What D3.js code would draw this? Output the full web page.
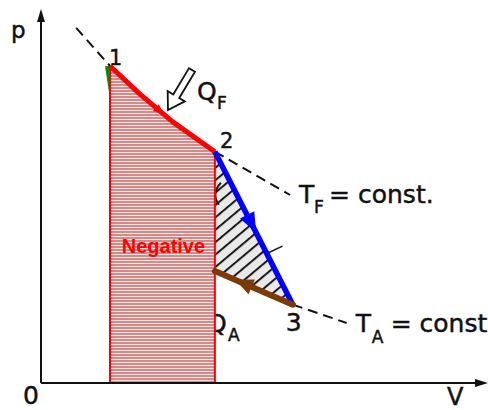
<!DOCTYPE html>
<html>
<head>
<meta charset="utf-8">
<script src="https://cdn.jsdelivr.net/npm/d3@7"></script>
<style>
  html, body { margin: 0; padding: 0; background: #fff; }
  svg { display: block; }
  text.lbl { font-family: "DejaVu Sans", "Liberation Sans", sans-serif; fill: #111; stroke: #111; stroke-width: 0.45px; }
</style>
</head>
<body>
<svg id="chart" width="488" height="410"></svg>
<script>
// Cycle states in (V, p) units
const stateNames = ["1", "2", "3", "4"];
const stateV = [1.0, 2.52, 3.65, 2.52];
const stateP = [8.5, 6.2, 2.1, 3.0];

// Expansion 1 -> 2 along the hot side (slightly sagging curve)
const hotV = [1.0, 1.43, 1.91, 2.52];
const hotP = [8.5, 7.75, 7.0, 6.2];

// Isotherm stubs drawn dashed beyond the cycle corners
const isoFV = [0.51, 1.0];
const isoFP = [9.52, 8.5];
const isoF2V = [2.52, 3.61];
const isoF2P = [6.2, 5.04];
const isoAV = [3.65, 4.43];
const isoAP = [2.1, 1.61];

// Text labels
const isoLabels = ["T", "F", "= const.", "T", "A", "= const"];
const heatLabels = ["Q", "F", "Q", "A"];
const areaLabel = "Negative";

const svg = d3.select("#chart");
const x = d3.scaleLinear().domain([0, 6.5]).range([41, 489.5]);
const y = d3.scaleLinear().domain([0, 10]).range([383, 10]);
const pt = (v, p) => [x(v), y(p)];
const line = d3.line().x(d => x(d[0])).y(d => y(d[1]));

function label(px, py, size, txt) {
  return svg.append("text").attr("class", "lbl")
    .attr("x", px).attr("y", py).attr("font-size", size).text(txt);
}

const defs = svg.append("defs");

// Horizontal stripes for the area under 1 -> 2
const stripes = defs.append("pattern")
  .attr("id", "stripes").attr("patternUnits", "userSpaceOnUse")
  .attr("width", 6).attr("height", 3);
stripes.append("rect").attr("width", 6).attr("height", 3).attr("fill", "#f6e6e6");
stripes.append("rect").attr("width", 6).attr("height", 2).attr("fill", "#d58a8a");

// Diagonal hatching for the enclosed cycle area
const hatch = defs.append("pattern")
  .attr("id", "hatch").attr("patternUnits", "userSpaceOnUse")
  .attr("width", 20).attr("height", 9.5)
  .attr("patternTransform", "rotate(-40)");
hatch.append("rect").attr("width", 20).attr("height", 9.5).attr("fill", "#e9e9e9");
hatch.append("line").attr("x1", 0).attr("x2", 20).attr("y1", 1).attr("y2", 1)
  .attr("stroke", "#1a1a1a").attr("stroke-width", 2);

// Hatched region 2 -> 3 -> 4, extended left under the striped area
const hatchPoly = [[stateV[1] - 0.3, stateP[1]], [stateV[1], stateP[1]],
                   [stateV[2], stateP[2]], [stateV[3], stateP[3]], [stateV[3] - 0.3, stateP[3]]];
svg.append("path").attr("d", line(hatchPoly) + "Z").attr("fill", "url(#hatch)");

// short leader stroke crossing the 2 -> 3 line
const leadA = pt(3.25, 3.45), leadB = pt(3.5, 3.67);
svg.append("line").attr("x1", leadA[0]).attr("y1", leadA[1])
  .attr("x2", leadB[0]).attr("y2", leadB[1])
  .attr("stroke", "#1a1a1a").attr("stroke-width", 1.6);

// small arc mark next to state 2
const p2 = pt(stateV[1], stateP[1]);
svg.append("path")
  .attr("d", `M${p2[0] + 6},${p2[1] + 31} Q${p2[0] - 4},${p2[1] + 42} ${p2[0] + 4},${p2[1] + 53}`)
  .attr("fill", "none").attr("stroke", "#1a1a1a").attr("stroke-width", 2);

// Q_A label (partly under the striped area)
const p4 = pt(stateV[3], stateP[3]);
label(p4[0] - 8, p4[1] + 61, 25, heatLabels[2]);
label(p4[0] + 13, p4[1] + 70, 17, heatLabels[3]);

// green isochoric stub at state 1
const p1 = pt(stateV[0], stateP[0]);
svg.append("path")
  .attr("d", `M${p1[0] - 3},${p1[1]} L${p1[0] + 1},${p1[1] + 26}`)
  .attr("stroke", "#0a8a0a").attr("stroke-width", 4).attr("fill", "none");

// Striped area under the 1 -> 2 curve
const areaPts = hotV.map((v, i) => [v, hotP[i]]);
const areaPath = line([[hotV[0], 0], ...areaPts, [hotV[hotV.length - 1], 0]]) + "Z";
svg.append("path").attr("d", areaPath)
  .attr("fill", "url(#stripes)").attr("stroke", "#ff0000").attr("stroke-width", 2);

// Axes with arrow heads
const axisG = svg.append("g").attr("stroke", "#111").attr("stroke-width", 2).attr("fill", "none");
axisG.append("line").attr("x1", x(0)).attr("y1", y(0)).attr("x2", x(0)).attr("y2", 14);
axisG.append("line").attr("x1", x(0)).attr("y1", y(0)).attr("x2", 484).attr("y2", y(0));
svg.append("path").attr("d", `M${x(0)},9 L${x(0) - 4},22 L${x(0) + 4},22 Z`).attr("fill", "#111");
svg.append("path").attr("d", `M488,${y(0)} L475,${y(0) - 4} L475,${y(0) + 4} Z`).attr("fill", "#111");

// Dashed isotherms
[[isoFV, isoFP], [isoF2V, isoF2P], [isoAV, isoAP]].forEach(([vs, ps]) => {
  svg.append("path").attr("d", line(vs.map((v, i) => [v, ps[i]])))
    .attr("fill", "none").attr("stroke", "#111").attr("stroke-width", 2)
    .attr("stroke-dasharray", "10,6");
});

// Process lines
svg.append("path").attr("d", line(areaPts))
  .attr("fill", "none").attr("stroke", "#ff0000").attr("stroke-width", 5)
  .attr("stroke-linejoin", "round");
const seg23 = [[stateV[1], stateP[1]], [stateV[2], stateP[2]]];
const seg34 = [[stateV[2], stateP[2]], [stateV[3], stateP[3]]];
svg.append("path").attr("d", line(seg23))
  .attr("stroke", "#0000ff").attr("stroke-width", 5.5).attr("fill", "none");
svg.append("path").attr("d", line(seg34))
  .attr("stroke", "#7a3b06").attr("stroke-width", 6).attr("fill", "none")
  .attr("stroke-linecap", "round");

// Arrow head placed along a segment at fraction t
function arrowHead(seg, t, len, half, color) {
  const a = pt(seg[0][0], seg[0][1]), b = pt(seg[1][0], seg[1][1]);
  const dx = b[0] - a[0], dy = b[1] - a[1], L = Math.hypot(dx, dy);
  const ux = dx / L, uy = dy / L, nx = -uy, ny = ux;
  const tip = [a[0] + dx * t, a[1] + dy * t];
  const base = [tip[0] - ux * len, tip[1] - uy * len];
  svg.append("path")
    .attr("d", `M${tip[0]},${tip[1]} L${base[0] + nx * half},${base[1] + ny * half} L${base[0] - nx * half},${base[1] - ny * half} Z`)
    .attr("fill", color);
}
arrowHead(seg23, 0.53, 20, 8, "#0000ff");
arrowHead(seg34, 0.74, 18, 8, "#7a3b06");
arrowHead([[hotV[1], hotP[1]], [hotV[2], hotP[2]]], 0.72, 10, 4.5, "#ff0000");

// Hollow arrow for heat supplied
function hollowArrow(tail, tip, shaft, head, headLen) {
  const dx = tip[0] - tail[0], dy = tip[1] - tail[1], L = Math.hypot(dx, dy);
  const ux = dx / L, uy = dy / L, nx = -uy, ny = ux;
  const bx = tip[0] - ux * headLen, by = tip[1] - uy * headLen;
  const P = (px, py, s) => `${px + nx * s},${py + ny * s}`;
  const d = `M${P(tail[0], tail[1], shaft)} L${P(bx, by, shaft)} L${P(bx, by, head)} L${tip[0]},${tip[1]} L${P(bx, by, -head)} L${P(bx, by, -shaft)} L${P(tail[0], tail[1], -shaft)} Z`;
  svg.append("path").attr("d", d).attr("fill", "#fff").attr("stroke", "#111").attr("stroke-width", 1.8)
    .attr("stroke-linejoin", "miter");
}
hollowArrow([p1[0] + 82, p1[1] + 4], [p1[0] + 58, p1[1] + 44], 3.5, 10, 16);

// State labels
const stateOffsets = [[-1, -1], [5, -4], [-7, 26], [0, 0]];
stateNames.slice(0, 3).forEach((n, i) => {
  const q = pt(stateV[i], stateP[i]);
  label(q[0] + stateOffsets[i][0], q[1] + stateOffsets[i][1], i === 2 ? 25 : 21, n);
});

// Q_F label
label(p1[0] + 87, p1[1] + 34, 25, heatLabels[0]);
label(p1[0] + 107, p1[1] + 43, 17, heatLabels[1]);

// Isotherm labels
const fEnd = pt(isoF2V[1], isoF2P[1]);
label(fEnd[0] + 9, fEnd[1] + 8, 25, isoLabels[0]);
label(fEnd[0] + 24, fEnd[1] + 18, 17, isoLabels[1]);
label(fEnd[0] + 39, fEnd[1] + 8, 25, isoLabels[2]);
const aEnd = pt(isoAV[1], isoAP[1]);
label(aEnd[0] + 9, aEnd[1] + 9, 25, isoLabels[3]);
label(aEnd[0] + 25, aEnd[1] + 20, 17, isoLabels[4]);
label(aEnd[0] + 44, aEnd[1] + 9, 25, isoLabels[5]);

// Axis labels
label(11, 38, 23, "p");
label(23, 404, 25, "0");
label(447, 405, 24, "V");

// Area annotation
svg.append("text")
  .attr("x", (x(hotV[0]) + x(hotV[hotV.length - 1])) / 2 + 1).attr("y", 253)
  .attr("text-anchor", "middle")
  .style("font-family", "'Liberation Sans', Arial, sans-serif")
  .style("font-weight", "bold").style("fill", "#ff0000")
  .attr("font-size", 20).text(areaLabel);
</script>
</body>
</html>
